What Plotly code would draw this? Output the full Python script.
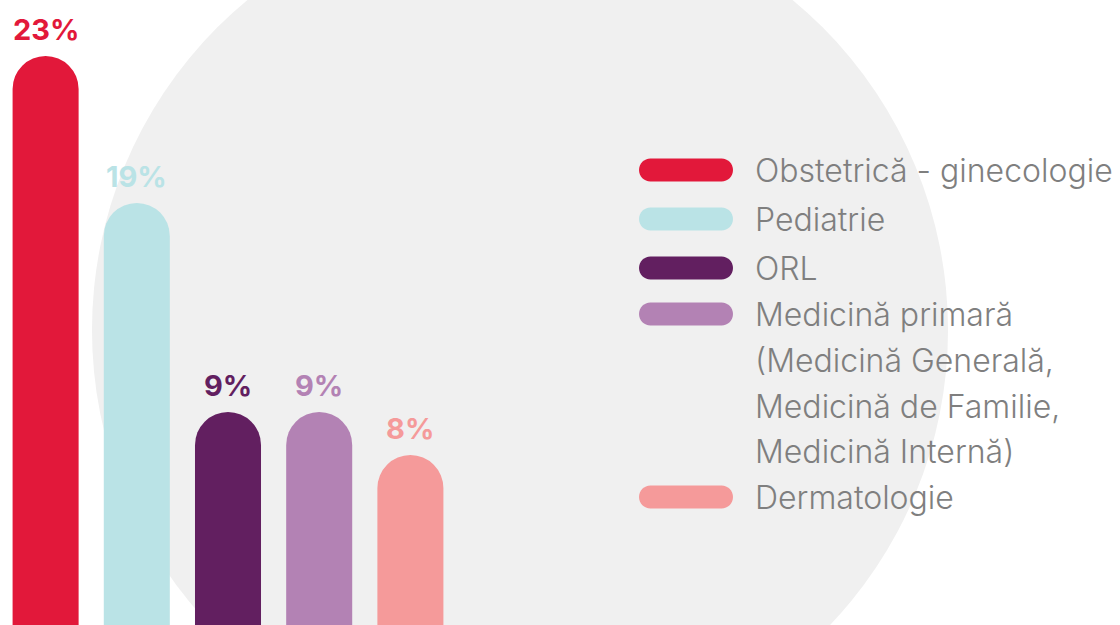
"""Specialty share bar chart with pill-shaped bars and legend."""

import plotly.graph_objects as go

W, H = 1120, 625

specialties = [
    "Obstetrică - ginecologie",
    "Pediatrie",
    "ORL",
    "Medicină primară",
    "Dermatologie",
]
share_labels = ["23%", "19%", "9%", "9%", "8%"]
# bar heights as drawn in the infographic (not proportional to the shares)
bar_heights = [23.0, 17.06, 8.61, 8.61, 6.87]
colors = ["#E2183A", "#BAE3E6", "#621F60", "#B382B4", "#F59A9A"]
legend_lines = [
    ["Obstetrică - ginecologie"],
    ["Pediatrie"],
    ["ORL"],
    ["Medicină primară", "(Medicină Generală,", "Medicină de Familie,", "Medicină Internă)"],
    ["Dermatologie"],
]

FONT = "Inter"
GREY = "#7F7F7F"


def px(x):
    return x / W


def py(y):
    return 1 - y / H


def pill_path(x0, x1, yc, h):
    """Rounded pill path (pixel input, paper output)."""
    r = h / 2
    k = 0.5523 * r
    xa, xb = x0 + r, x1 - r
    pts = [
        ("M", [(xa, yc - r)]),
        ("L", [(xb, yc - r)]),
        ("C", [(xb + k, yc - r), (x1, yc - k), (x1, yc)]),
        ("C", [(x1, yc + k), (xb + k, yc + r), (xb, yc + r)]),
        ("L", [(xa, yc + r)]),
        ("C", [(xa - k, yc + r), (x0, yc + k), (x0, yc)]),
        ("C", [(x0, yc - k), (xa - k, yc - r), (xa, yc - r)]),
    ]
    out = []
    for cmd, coords in pts:
        out.append(cmd + " ".join(f"{px(a):.5f},{py(b):.5f}" for a, b in coords))
    return " ".join(out) + " Z"


fig = go.Figure()
fig.add_trace(
    go.Bar(
        x=list(range(len(specialties))),
        y=bar_heights,
        marker=dict(color=colors, cornerradius=33, line=dict(width=0)),
        hovertext=[f"{s}: {v}" for s, v in zip(specialties, share_labels)],
        hoverinfo="text",
        showlegend=False,
    )
)

# background circle
fig.add_shape(
    type="circle",
    xref="paper",
    yref="paper",
    x0=px(92),
    x1=px(948),
    y0=py(758),
    y1=py(-98),
    fillcolor="#F0F0F0",
    line=dict(width=0),
    layer="below",
)

annotations = []
for i, (lab, h, c) in enumerate(zip(share_labels, bar_heights, colors)):
    annotations.append(
        dict(
            x=i,
            y=h,
            xref="x",
            yref="y",
            text=f"<b>{lab}</b>",
            showarrow=False,
            yanchor="bottom",
            yshift=7,
            font=dict(family=FONT, size=29, color=c),
        )
    )

row_centers = [170, 219, 268, 314, 497]
line_step = 46
for lines, c, yc in zip(legend_lines, colors, row_centers):
    fig.add_shape(
        type="path",
        xref="paper",
        yref="paper",
        path=pill_path(639, 733, yc, 23),
        fillcolor=c,
        line=dict(width=0),
    )
    for j, t in enumerate(lines):
        annotations.append(
            dict(
                x=px(755),
                y=py(yc + j * line_step),
                xref="paper",
                yref="paper",
                text=t,
                showarrow=False,
                xanchor="left",
                yanchor="middle",
                xshift=-2,
                font=dict(family=FONT, size=32, color=GREY, weight=300),
            )
        )

fig.update_layout(
    width=W,
    height=H,
    margin=dict(l=0, r=0, t=0, b=0),
    paper_bgcolor="white",
    plot_bgcolor="rgba(0,0,0,0)",
    bargap=0.276,
    annotations=annotations,
    xaxis=dict(domain=[0, 456 / W], range=[-0.5, 4.5], visible=False),
    yaxis=dict(range=[0, 23 * H / 569], visible=False),
)

fig.write_html(
    "out.html",
    config={"displayModeBar": False},
    post_script="document.body.style.margin='0';",
)
